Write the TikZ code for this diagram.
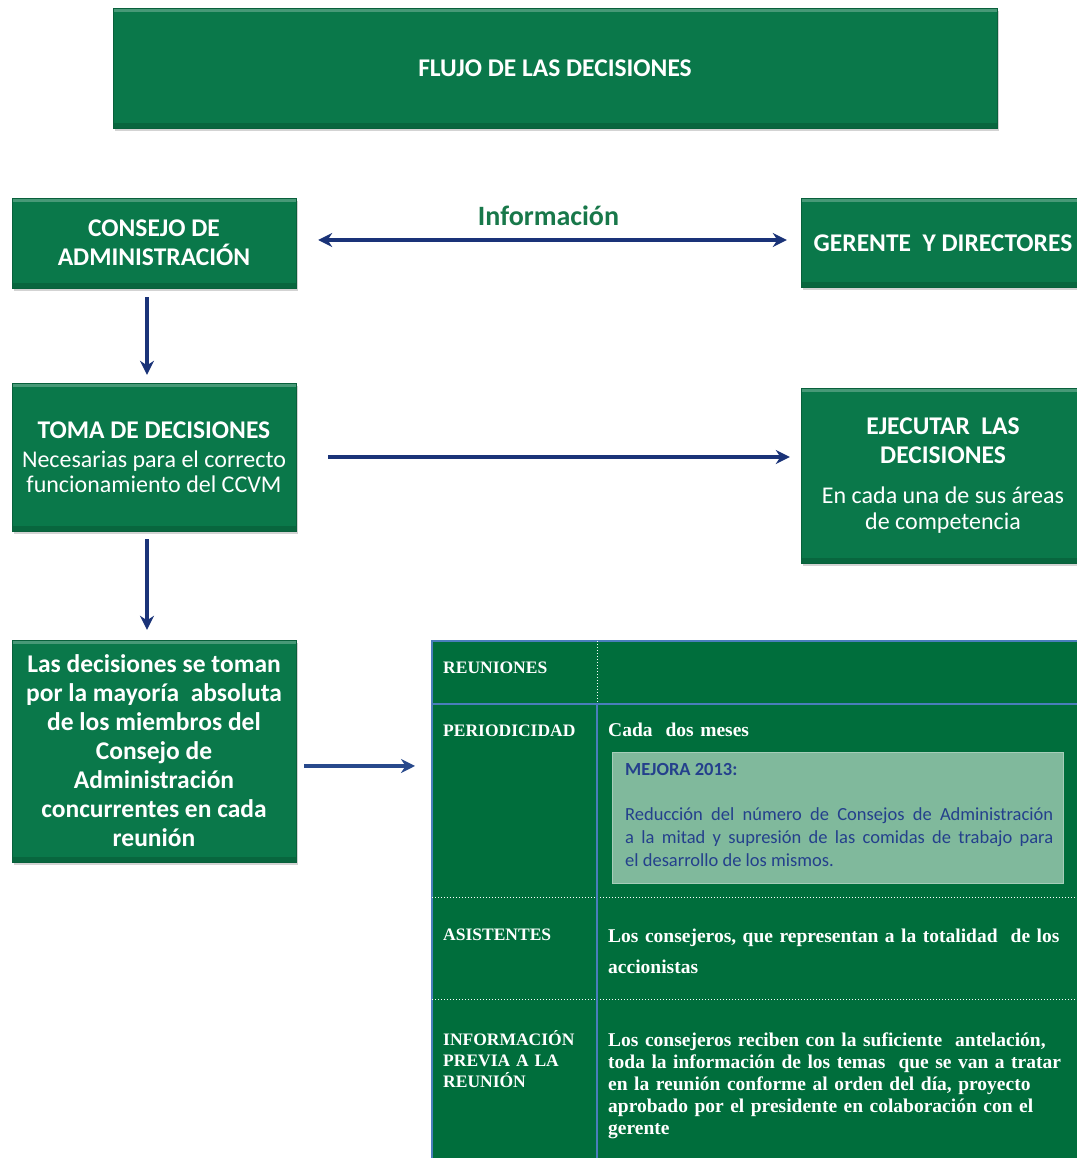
\documentclass[tikz,border=0pt]{standalone}
\usepackage{fontspec}
\setmainfont{Carlito}
\newfontfamily\tablafont{Liberation Serif}
\usetikzlibrary{positioning,shadows,arrows.meta}
\definecolor{verdecaja}{HTML}{0A784A}
\definecolor{verdetabla}{HTML}{006E3C}
\definecolor{verdeclaro}{HTML}{80B99C}
\definecolor{azulflecha}{HTML}{1A3378}
\definecolor{azulborde}{HTML}{4A7EBB}
\definecolor{azultexto}{HTML}{24408C}
\definecolor{verdeletra}{HTML}{18784A}
\newcommand\letranormal{\mdseries\fontsize{24}{25}\selectfont}
\begin{document}
\begin{tikzpicture}[x=1pt,y=1pt]
        \tikzstyle{caja} = [rectangle, fill=verdecaja, draw=verdecaja!80!black, minimum width=284pt, align=center, text=white, font=\bfseries\fontsize{25.5}{29}\selectfont, drop shadow={shadow xshift=2pt, shadow yshift=-3pt, opacity=0.35},
            path picture={\fill[white, opacity=0.25] (path picture bounding box.north west) rectangle ([yshift=-4pt]path picture bounding box.north east);
                          \fill[black, opacity=0.15] (path picture bounding box.south west) rectangle ([yshift=5pt]path picture bounding box.south east);}]
        \tikzstyle{flecha} = [azulflecha, line width=3.4pt, -{Stealth[length=14pt,width=14pt]}]
        \tikzstyle{celda} = [anchor=base west, align=left, text=white, inner sep=0pt, font=\tablafont\bfseries\fontsize{17.5}{21}\selectfont]
        \tikzstyle{celdatexto} = [celda, text width=470pt, font=\tablafont\bfseries\fontsize{19.5}{22}\selectfont]

        \useasboundingbox (0,0) rectangle (1076,1158);

        \node (titulo) [caja, minimum width=884pt, minimum height=120pt] at (555,1090) {FLUJO DE LAS DECISIONES};
        \node (consejo) [caja, minimum height=90pt] at (154,915) {CONSEJO DE\\ADMINISTRACIÓN};
        \node (gerente) [caja, minimum height=89pt] at (943,915) {GERENTE\ \ Y DIRECTORES};
        \node (toma) [caja, minimum height=148pt] at (154,701) {TOMA DE DECISIONES\\\letranormal Necesarias para el correcto\\[-4pt]\letranormal funcionamiento del CCVM};
        \node (ejecutar) [caja, minimum height=175pt] at (943,682) {EJECUTAR\ \ LAS\\DECISIONES\\[11pt]\letranormal En cada una de sus áreas\\[-3pt]\letranormal de competencia};
        \node (decisiones) [caja, minimum height=222pt] at (154,407) {Las decisiones se toman\\por la mayoría\ \ absoluta\\de los miembros del\\Consejo de\\Administración\\concurrentes en cada\\reunión};

        % tabla de reuniones
        \node (tabla) [rectangle, fill=verdetabla, anchor=north west, minimum width=650pt, minimum height=522pt, inner sep=0pt] at (432,517) {};
        \draw[azulborde, line width=1.5pt] (tabla.south west) -- (tabla.north west) -- (tabla.north east);
        \draw[azulborde, line width=2pt] (432,454) -- (1082,454);
        \draw[white, dotted, line width=1pt] (432,260) -- (1082,260);
        \draw[white, dotted, line width=1pt] (432,158) -- (1082,158);
        \draw[white, dotted, line width=1pt] (597,517) -- (597,454);
        \draw[azulborde, line width=1.2pt] (597,454) -- (597,-4);
        \node (mejora) [rectangle, fill=verdeclaro, draw=verdeclaro!70!white, anchor=north west, minimum width=451pt, minimum height=131pt] at (612,406) {};

        \node (reuniones) [celda] at (443,484) {REUNIONES};
        \node (periodicidad) [celda] at (443,421) {PERIODICIDAD};
        \node (cada) [celdatexto] at (608,421) {Cada\ \ dos meses};
        \node (mejoratit) [anchor=base west, inner sep=0pt, text=azultexto, font=\bfseries\fontsize{18.5}{20}\selectfont] at (625,382) {MEJORA 2013:};
        \node (mejoratxt) [anchor=base west, inner sep=0pt, text=azultexto, text width=428pt, align=justify, font=\fontsize{18.5}{23}\selectfont] at (625,337) {Reducción del número de Consejos de Administración\linebreak a la mitad y supresión de las comidas de trabajo para\linebreak el desarrollo de los mismos.};
        \node (asistentes) [celda] at (443,217) {ASISTENTES};
        \node (asistentestxt) [celdatexto, font=\tablafont\bfseries\fontsize{19.5}{31}\selectfont] at (608,215) {Los consejeros, que representan a la totalidad\ \ de los\\accionistas};
        \node (previa) [celda, text width=150pt] at (443,112) {INFORMACIÓN\\PREVIA A LA\\REUNIÓN};
        \node (previatxt) [celdatexto] at (608,111) {Los consejeros reciben con la suficiente\ \ antelación,\\toda la información de los temas\ \ que se van a tratar\\en la reunión conforme al orden del día, proyecto\\aprobado por el presidente en colaboración con el\\gerente};

        % flechas
        \draw[flecha, {Stealth[length=14pt,width=14pt]}-{Stealth[length=14pt,width=14pt]}, shorten <=22pt, shorten >=14pt] ([yshift=3pt]consejo.east) -- ([yshift=3pt]consejo.east -| gerente.west) node[midway, above=9pt, text=verdeletra, font=\bfseries\fontsize{28}{30}\selectfont] {Información};
        \draw[flecha, shorten <=9pt, shorten >=8pt] ([xshift=-7pt]consejo.south) -- ([xshift=-7pt]toma.north);
        \draw[flecha, shorten <=32pt, shorten >=11pt] (toma.east) -- (toma.east -| ejecutar.west);
        \draw[flecha, shorten <=8pt, shorten >=10pt] ([xshift=-7pt]toma.south) -- ([xshift=-7pt]decisiones.north);
        \draw[flecha, azulflecha!70!azulborde, shorten <=8pt, shorten >=17pt] ([yshift=-15pt]decisiones.east) -- ([yshift=-15pt]decisiones.east -| tabla.west);
\end{tikzpicture}
\end{document}
